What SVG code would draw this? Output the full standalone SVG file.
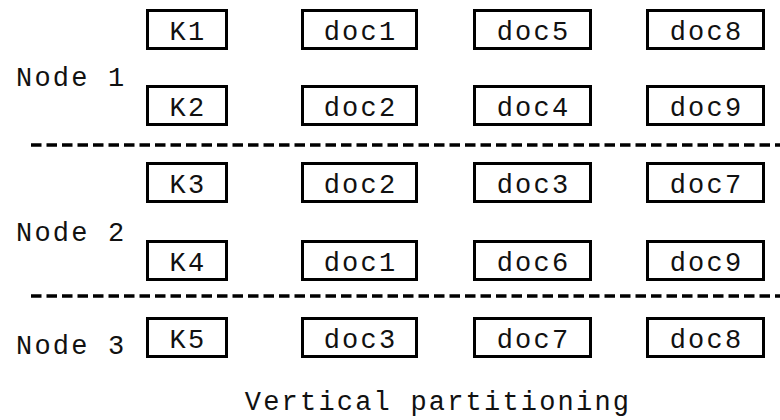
<svg xmlns="http://www.w3.org/2000/svg" width="780" height="420" viewBox="0 0 780 420">
<style>
  .box { fill: #fff; stroke: #000; stroke-width: 3; }
  .t { font-family: "Liberation Mono", "DejaVu Sans Mono", monospace; font-size: 27px; letter-spacing: 2.2px; fill: #111; }
  .c { text-anchor: middle; }
  .sep { stroke: #000; stroke-width: 3.5; stroke-dasharray: 10.5 5; }
</style>
<rect width="780" height="420" fill="#fff"/>
<g id="separators">
  <line class="sep" x1="31" y1="145" x2="780" y2="145"/>
  <line class="sep" x1="31" y1="296" x2="780" y2="296"/>
</g>
<g id="labels">
  <text class="t" x="16" y="86">Node 1</text>
  <text class="t" x="16" y="241">Node 2</text>
  <text class="t" x="16" y="354">Node 3</text>
  <text class="t c" x="438" y="410">Vertical partitioning</text>
</g>
<!-- Row 1 -->
<g id="K1"><rect class="box" x="147.5" y="10.5" width="79" height="38"/><text class="t c" x="188" y="40">K1</text></g>
<g id="r1doc1"><rect class="box" x="302.5" y="10.5" width="114" height="38"/><text class="t c" x="360.5" y="40">doc1</text></g>
<g id="r1doc5"><rect class="box" x="474.5" y="10.5" width="116" height="38"/><text class="t c" x="533.5" y="40">doc5</text></g>
<g id="r1doc8"><rect class="box" x="647.5" y="10.5" width="116" height="38"/><text class="t c" x="706.5" y="40">doc8</text></g>
<!-- Row 2 -->
<g id="K2"><rect class="box" x="147.5" y="86.5" width="79" height="38"/><text class="t c" x="188" y="116">K2</text></g>
<g id="r2doc2"><rect class="box" x="302.5" y="86.5" width="114" height="38"/><text class="t c" x="360.5" y="116">doc2</text></g>
<g id="r2doc4"><rect class="box" x="474.5" y="86.5" width="116" height="38"/><text class="t c" x="533.5" y="116">doc4</text></g>
<g id="r2doc9"><rect class="box" x="647.5" y="86.5" width="116" height="38"/><text class="t c" x="706.5" y="116">doc9</text></g>
<!-- Row 3 -->
<g id="K3"><rect class="box" x="147.5" y="163.5" width="79" height="38"/><text class="t c" x="188" y="193">K3</text></g>
<g id="r3doc2"><rect class="box" x="302.5" y="163.5" width="114" height="38"/><text class="t c" x="360.5" y="193">doc2</text></g>
<g id="r3doc3"><rect class="box" x="474.5" y="163.5" width="116" height="38"/><text class="t c" x="533.5" y="193">doc3</text></g>
<g id="r3doc7"><rect class="box" x="647.5" y="163.5" width="116" height="38"/><text class="t c" x="706.5" y="193">doc7</text></g>
<!-- Row 4 -->
<g id="K4"><rect class="box" x="147.5" y="241.5" width="79" height="38"/><text class="t c" x="188" y="271">K4</text></g>
<g id="r4doc1"><rect class="box" x="302.5" y="241.5" width="114" height="38"/><text class="t c" x="360.5" y="271">doc1</text></g>
<g id="r4doc6"><rect class="box" x="474.5" y="241.5" width="116" height="38"/><text class="t c" x="533.5" y="271">doc6</text></g>
<g id="r4doc9"><rect class="box" x="647.5" y="241.5" width="116" height="38"/><text class="t c" x="706.5" y="271">doc9</text></g>
<!-- Row 5 -->
<g id="K5"><rect class="box" x="147.5" y="318.5" width="79" height="38"/><text class="t c" x="188" y="348">K5</text></g>
<g id="r5doc3"><rect class="box" x="302.5" y="318.5" width="114" height="38"/><text class="t c" x="360.5" y="348">doc3</text></g>
<g id="r5doc7"><rect class="box" x="474.5" y="318.5" width="116" height="38"/><text class="t c" x="533.5" y="348">doc7</text></g>
<g id="r5doc8"><rect class="box" x="647.5" y="318.5" width="116" height="38"/><text class="t c" x="706.5" y="348">doc8</text></g>
</svg>
